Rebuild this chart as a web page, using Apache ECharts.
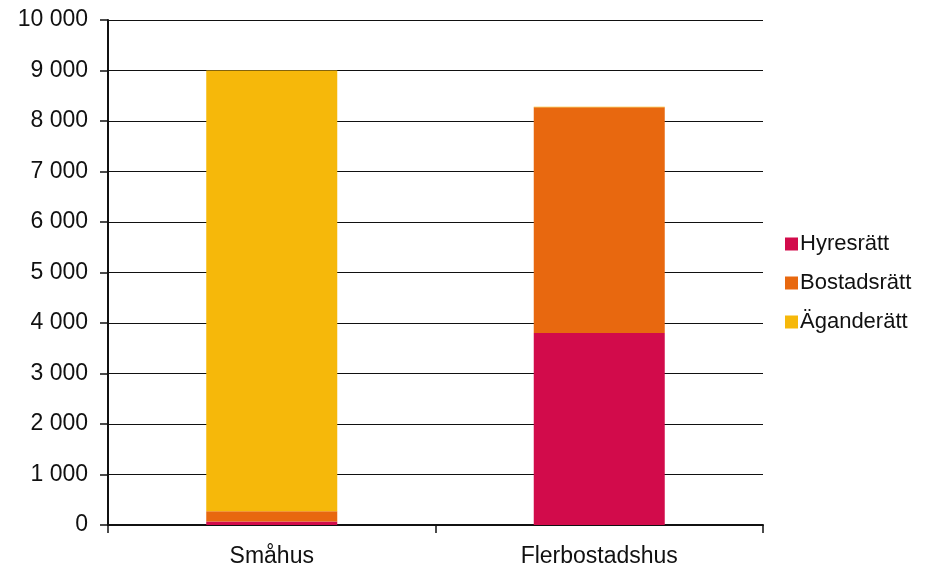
<!DOCTYPE html>
<html>
<head>
<meta charset="utf-8">
<script src="https://cdn.jsdelivr.net/npm/echarts@6/dist/echarts.min.js"></script>
<style>
  html, body { margin: 0; padding: 0; background: #fff; }
  #chart { width: 937px; height: 574px; }
</style>
</head>
<body>
<div id="chart"></div>
<script>
const categories = ['Småhus', 'Flerbostadshus']
const hyresratt = [70, 3800]
const bostadsratt = [200, 4470]
const aganderatt = [8730, 10]
const yTicks = [0, 1000, 2000, 3000, 4000, 5000, 6000, 7000, 8000, 9000, 10000]

function fmt(v) {
  return String(v).replace(/\B(?=(\d{3})+(?!\d))/g, ' ')
}

const chart = echarts.init(document.getElementById('chart'))
const font = 'Liberation Sans, Arial, sans-serif'

chart.setOption({
  animation: false,
  textStyle: { fontFamily: font },
  grid: { left: 108, right: 174, top: 20, bottom: 49 },
  legend: {
    orient: 'vertical',
    left: 780,
    top: 228,
    itemWidth: 13,
    itemHeight: 13,
    itemGap: 17,
    icon: 'rect',
    textStyle: { fontSize: 22, color: '#111', fontFamily: font, padding: [0, 0, 0, -3] },
    data: ['Hyresrätt', 'Bostadsrätt', 'Äganderätt']
  },
  xAxis: {
    type: 'category',
    data: categories,
    axisLine: { lineStyle: { color: '#111', width: 2 } },
    axisTick: { show: true, length: 8, lineStyle: { color: '#111', width: 1.5 } },
    axisLabel: { fontSize: 23, color: '#111', margin: 20 }
  },
  yAxis: {
    type: 'value',
    min: 0,
    max: yTicks[yTicks.length - 1],
    interval: 1000,
    axisLine: { show: true, lineStyle: { color: '#111', width: 2 } },
    axisTick: { show: true, length: 8, lineStyle: { color: '#111', width: 1.5 } },
    splitLine: { lineStyle: { color: '#111', width: 1.2 } },
    axisLabel: { fontSize: 23, color: '#111', margin: 20, formatter: fmt }
  },
  series: [
    { name: 'Hyresrätt', type: 'bar', stack: 'a', data: hyresratt, barWidth: '40%', itemStyle: { color: '#D20B4B' } },
    { name: 'Bostadsrätt', type: 'bar', stack: 'a', data: bostadsratt, barWidth: '40%', itemStyle: { color: '#E8680F' } },
    { name: 'Äganderätt', type: 'bar', stack: 'a', data: aganderatt, barWidth: '40%', itemStyle: { color: '#F6B80A' } }
  ]
})
</script>
</body>
</html>
